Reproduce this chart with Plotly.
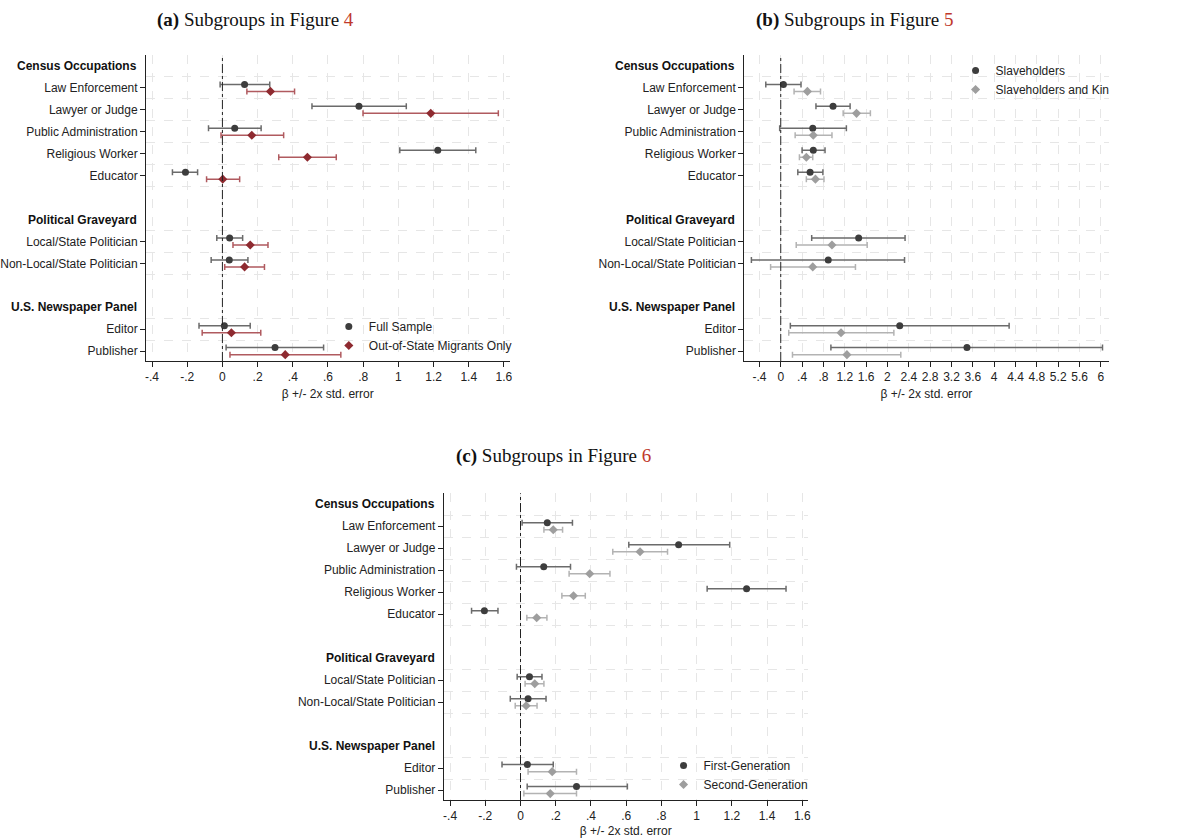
import plotly.graph_objects as go

# ---------------- data ----------------
groups = [
    ("Census Occupations", ["Law Enforcement", "Lawyer or Judge", "Public Administration",
                            "Religious Worker", "Educator"]),
    ("Political Graveyard", ["Local/State Politician", "Non-Local/State Politician"]),
    ("U.S. Newspaper Panel", ["Editor", "Publisher"]),
]

# Panel (a): Full sample vs out-of-state migrants
a_full_est = [0.126, 0.776, 0.070, 1.224, -0.210, 0.041, 0.039, 0.011, 0.299]
a_full_lo  = [-0.013, 0.509, -0.079, 1.008, -0.284, -0.032, -0.064, -0.133, 0.021]
a_full_hi  = [0.269, 1.045, 0.220, 1.440, -0.141, 0.115, 0.145, 0.158, 0.575]
a_mig_est  = [0.273, 1.184, 0.167, 0.483, 0.002, 0.158, 0.126, 0.051, 0.357]
a_mig_lo   = [0.139, 0.799, -0.008, 0.320, -0.090, 0.060, 0.013, -0.115, 0.043]
a_mig_hi   = [0.410, 1.568, 0.348, 0.647, 0.098, 0.259, 0.239, 0.218, 0.673]

# Panel (b): Slaveholders vs slaveholders and kin
b_sl_est  = [0.05, 0.98, 0.60, 0.61, 0.55, 1.46, 0.89, 2.23, 3.49]
b_sl_lo   = [-0.28, 0.66, -0.02, 0.40, 0.32, 0.58, -0.55, 0.18, 0.94]
b_sl_hi   = [0.38, 1.30, 1.23, 0.83, 0.79, 2.33, 2.32, 4.28, 6.03]
b_kin_est = [0.50, 1.42, 0.61, 0.48, 0.65, 0.96, 0.60, 1.13, 1.24]
b_kin_lo  = [0.25, 1.17, 0.27, 0.35, 0.48, 0.29, -0.19, 0.15, 0.22]
b_kin_hi  = [0.745, 1.68, 0.96, 0.60, 0.81, 1.62, 1.40, 2.12, 2.25]

# Panel (c): First vs second generation
c_g1_est = [0.152, 0.898, 0.132, 1.284, -0.205, 0.051, 0.043, 0.039, 0.318]
c_g1_lo  = [0.009, 0.615, -0.023, 1.060, -0.278, -0.019, -0.058, -0.105, 0.038]
c_g1_hi  = [0.295, 1.188, 0.284, 1.508, -0.128, 0.122, 0.145, 0.186, 0.607]
c_g2_est = [0.186, 0.679, 0.393, 0.301, 0.092, 0.081, 0.032, 0.180, 0.169]
c_g2_lo  = [0.133, 0.524, 0.276, 0.235, 0.036, 0.026, -0.030, 0.043, 0.019]
c_g2_hi  = [0.239, 0.835, 0.508, 0.368, 0.150, 0.133, 0.094, 0.318, 0.318]

ticks_ac = [-0.4, -0.2, 0, 0.2, 0.4, 0.6, 0.8, 1, 1.2, 1.4, 1.6]
ticks_b = [round(-0.4 + 0.4 * i, 1) for i in range(17)]

# ---------------- layout helpers ----------------
W, H = 1190, 838
SANS = "Liberation Sans, Arial, sans-serif"
SERIF = "Liberation Serif, Times New Roman, serif"

# compute row positions from group structure
header_rows, item_rows, item_labels, between = [], [], [], []
r = 0
for gi, (hdr, items) in enumerate(groups):
    header_rows.append((hdr, r))
    between.append(r + 0.5)
    r += 1
    for j, it in enumerate(items):
        item_rows.append(r)
        item_labels.append(it)
        if j < len(items) - 1 or gi < len(groups) - 1:
            between.append(r + 0.5)
        r += 1
    r += 1  # blank row between groups


def fmt(v):
    s = f"{v:g}"
    if s.startswith("0."):
        s = s[1:]
    elif s.startswith("-0."):
        s = "-" + s[2:]
    return s


DARK = "#3d3d3d"
DARK_CI = "#6b6b6b"
RED = "#8e2a30"
RED_CI = "#b05a5f"
LIGHT = "#9e9e9e"
LIGHT_CI = "#b3b3b3"

fig = go.Figure()

panels = [
    dict(xa="x", ya="y", leg="legend",
         series=[("Full Sample", a_full_est, a_full_lo, a_full_hi, DARK, DARK_CI, "circle"),
                 ("Out-of-State Migrants Only", a_mig_est, a_mig_lo, a_mig_hi, RED, RED_CI, "diamond")],
         xdom=(142, 508), ydom=(55, 361), xrng=(-0.434, 1.632), ticks=ticks_ac,
         legpos=(326, 336)),
    dict(xa="x2", ya="y2", leg="legend2",
         series=[("Slaveholders", b_sl_est, b_sl_lo, b_sl_hi, DARK, DARK_CI, "circle"),
                 ("Slaveholders and Kin", b_kin_est, b_kin_lo, b_kin_hi, LIGHT, LIGHT_CI, "diamond")],
         xdom=(744.3, 1111), ydom=(55, 361), xrng=(-0.683, 6.143), ticks=ticks_b,
         legpos=(957, 80)),
    dict(xa="x3", ya="y3", leg="legend3",
         series=[("First-Generation", c_g1_est, c_g1_lo, c_g1_hi, DARK, DARK_CI, "circle"),
                 ("Second-Generation", c_g2_est, c_g2_lo, c_g2_hi, LIGHT, LIGHT_CI, "diamond")],
         xdom=(441.7, 808.3), ydom=(493.3, 800), xrng=(-0.436, 1.632), ticks=ticks_ac,
         legpos=(663, 775)),
]

offsets = [-0.16, 0.16]
for p in panels:
    for k, (name, est, lo, hi, mc, cc, sym) in enumerate(p["series"]):
        fig.add_trace(go.Scatter(
            x=est, y=[row + offsets[k] for row in item_rows],
            mode="markers", name=name,
            xaxis=p["xa"], yaxis=p["ya"], legend=p["leg"],
            marker=dict(color=mc, size=7, symbol=sym),
            error_x=dict(type="data", symmetric=False,
                         array=[h - e for e, h in zip(est, hi)],
                         arrayminus=[e - l for e, l in zip(est, lo)],
                         color=cc, thickness=1.5, width=3),
        ))

layout = dict(width=W, height=H, margin=dict(l=0, r=0, t=0, b=0),
              plot_bgcolor="white", paper_bgcolor="white",
              font=dict(family=SANS, size=12, color="#222"))

annotations = []
shapes = []
for i, p in enumerate(panels):
    suf = "" if i == 0 else str(i + 1)
    xdom = [p["xdom"][0] / W, p["xdom"][1] / W]
    ydom = [1 - p["ydom"][1] / H, 1 - p["ydom"][0] / H]
    layout["xaxis" + suf] = dict(
        domain=xdom, range=list(p["xrng"]), anchor="y" + suf,
        tickmode="array", tickvals=p["ticks"], ticktext=[fmt(v) for v in p["ticks"]],
        ticks="outside", ticklen=5, tickcolor="#222", showline=True, linecolor="#222",
        linewidth=1, showgrid=True, gridcolor="#e6e6e6", griddash="dash", gridwidth=1,
        zeroline=False, tickfont=dict(size=12, family=SANS, color="#222"),
        title=dict(text="β +/- 2x std. error", font=dict(size=12, family=SANS, color="#222"),
                   standoff=6),
    )
    layout["yaxis" + suf] = dict(
        domain=ydom, range=[13.45, -0.5], anchor="x" + suf,
        tickmode="array", tickvals=item_rows, ticktext=item_labels,
        ticks="outside", ticklen=5, tickcolor="#222", showline=True, linecolor="#222",
        linewidth=1, showgrid=False, zeroline=False,
        tickfont=dict(size=12, family=SANS, color="#222"),
        minor=dict(tickmode="array", tickvals=between, showgrid=True, gridcolor="#e6e6e6",
                   griddash="dash", gridwidth=1, ticks=""),
    )
    lx, ly = p["legpos"]
    layout[p["leg"]] = dict(x=lx / W, y=1 - ly / H, xanchor="left", yanchor="middle",
                            bgcolor="rgba(0,0,0,0)", font=dict(size=12, family=SANS, color="#222"),
                            itemwidth=30, tracegroupgap=0)
    for hdr, row in header_rows:
        annotations.append(dict(text=f"<b>{hdr}</b>", xref=f"x{suf} domain", yref="y" + suf,
                                x=0, y=row, xshift=-7, xanchor="right", yanchor="middle",
                                showarrow=False, font=dict(size=12, family=SANS, color="#111")))
    shapes.append(dict(type="line", x0=0, x1=0, y0=0, y1=1, xref="x" + suf,
                       yref=f"y{suf} domain", line=dict(color="#222", width=1, dash="dashdot")))

titles = [("a", "4", 252, 20), ("b", "5", 855, 20), ("c", "6", 552, 456)]
for lab, num, tx, ty in titles:
    annotations.append(dict(
        text=f"<b>({lab})</b> Subgroups in Figure <span style='color:#c0392b'>{num}</span>",
        xref="paper", yref="paper", x=tx / W, y=1 - ty / H, xanchor="center", yanchor="middle",
        showarrow=False, font=dict(size=19, family=SERIF, color="#111")))

layout["annotations"] = annotations
layout["shapes"] = shapes
fig.update_layout(**layout)

fig.write_html("out.html")
